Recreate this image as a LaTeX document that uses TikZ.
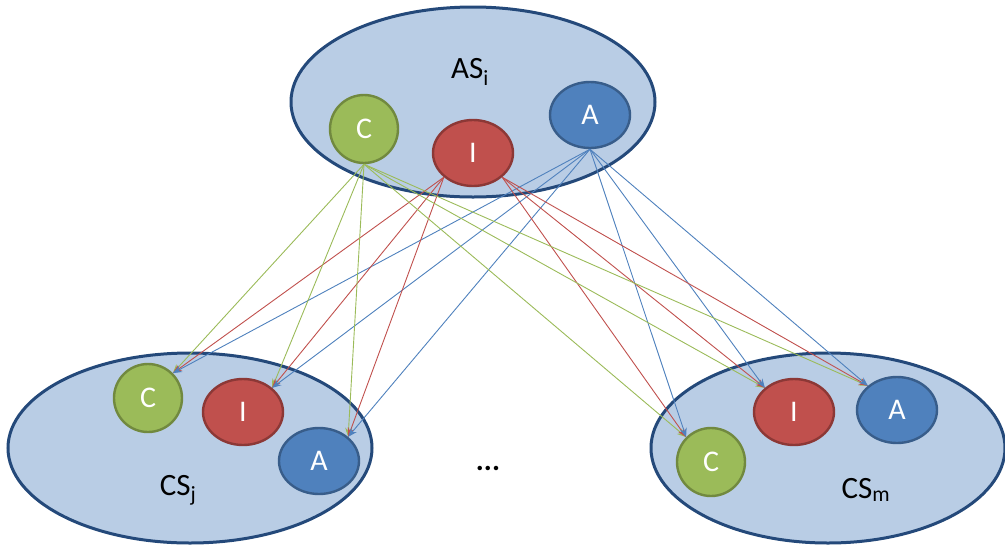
\documentclass[tikz,border=0pt]{standalone}
\usepackage{fontspec}
\setmainfont{Carlito}
\usetikzlibrary{shapes.geometric,arrows.meta}
\definecolor{bigfill}{HTML}{B9CDE5}
\definecolor{bigdraw}{HTML}{24497A}
\definecolor{cfill}{HTML}{9BBB59}
\definecolor{cdraw}{HTML}{71893F}
\definecolor{ifill}{HTML}{C0504D}
\definecolor{idraw}{HTML}{8C3836}
\definecolor{afill}{HTML}{4F81BD}
\definecolor{adraw}{HTML}{385D8A}
\tikzset{
  sysell/.style={ellipse, draw=bigdraw, fill=bigfill, line width=3pt, minimum width=#1, minimum height=190pt, inner sep=0pt},
  sysell/.default=364pt,
  cnode/.style={circle, draw=cdraw, fill=cfill, line width=2.4pt, minimum size=68pt, inner sep=0pt, text=white, font=\fontsize{30}{32}\selectfont},
  inode/.style={ellipse, draw=idraw, fill=ifill, line width=2.4pt, minimum width=80pt, minimum height=66pt, inner sep=0pt, text=white, font=\fontsize{30}{32}\selectfont},
  anode/.style={ellipse, draw=adraw, fill=afill, line width=2.4pt, minimum width=80pt, minimum height=66pt, inner sep=0pt, text=white, font=\fontsize{30}{32}\selectfont},
  lbl/.style={font=\fontsize{31}{33}\selectfont, inner sep=0pt},
  arr/.style={line width=0.9pt, -{Stealth[length=9pt,width=7pt]}},
  gline/.style={arr, draw=cfill},
  rline/.style={arr, draw=ifill},
  bline/.style={arr, draw=afill}
}
\begin{document}
\begin{tikzpicture}[x=1pt,y=-1pt]
\useasboundingbox (0,0) rectangle (1005,550);
% big ellipses
\node[sysell] (AS) at (473,102) {};
\node[sysell] (CSj) at (190,448) {};
\node[sysell=354pt] (CSm) at (828,448) {};
% labels
\node[lbl] (ASl) at (470,72) {AS\textsubscript{i}};
\node[lbl] (CSjl) at (178,490) {CS\textsubscript{j}};
\node[lbl] (CSml) at (866,490) {CS\textsubscript{m}};
\node[font=\fontsize{30}{32}\selectfont\bfseries, inner sep=0pt, anchor=base] (dots) at (488,470) {...};
% top nodes
\node[cnode] (tC) at (364,129) {C};
\node[inode] (tI) at (473,153) {I};
\node[anode] (tA) at (590,115) {A};
% bottom left nodes
\node[cnode] (lC) at (148,398) {C};
\node[inode] (lI) at (243,412) {I};
\node[anode] (lA) at (319,461) {A};
% bottom right nodes
\node[cnode] (rC) at (711,462) {C};
\node[inode] (rI) at (794,412) {I};
\node[anode] (rA) at (897,410) {A};
% connectors
\foreach \t in {lC,lI,lA} {
  \draw[gline] (tC.south) -- (\t.north east);
  \draw[rline] (tI.south west) -- (\t.north east);
  \draw[bline] (tA.south) -- (\t.north east);
}
\foreach \t in {rC,rI,rA} {
  \draw[gline] (tC.south) -- (\t.north west);
  \draw[rline] (tI.south east) -- (\t.north west);
  \draw[bline] (tA.south) -- (\t.north west);
}
\end{tikzpicture}
\end{document}
